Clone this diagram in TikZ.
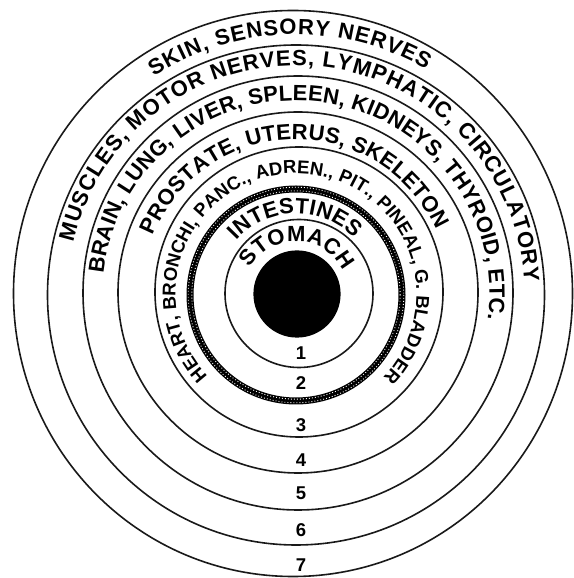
\documentclass[tikz,border=0pt]{standalone}
\usepackage{fontspec}
\setmainfont{Liberation Sans}
\usetikzlibrary{decorations.text}
\newcommand\bandfont{\bfseries\fontsize{22}{22}\selectfont}
\newcommand\smallband{\bfseries\fontsize{18.5}{18.5}\selectfont}
\tikzset{
  ring/.style={draw=black!90, line width=1.6pt},
  arctext/.style={decorate, decoration={text along path, text align=fit to path, text={#1}}},
  num/.style={font=\bfseries\fontsize{18.5}{18.5}\selectfont, inner sep=0pt}
}
\begin{document}
\begin{tikzpicture}[x=1pt,y=1pt]
\useasboundingbox (0,0) rectangle (573,578);
\fill[white] (0,0) rectangle (573,578);
\coordinate (ctr) at (296,284);
% circles
\draw[ring] (293,284.5) ellipse [x radius=279.5, y radius=283];
\draw[ring] (296,283) ellipse [x radius=248.5, y radius=250];
\draw[ring] (298,285) ellipse [x radius=215, y radius=217];
\draw[ring] (298,285.5) ellipse [x radius=180, y radius=180.5];
\draw[ring] (299,286) ellipse [x radius=144, y radius=145];
\draw[ring] (299,284.5) circle [radius=74];
% stippled ring
\draw[black, line width=7pt] (296,283) circle [radius=106];
\draw[white, line width=0.9pt, dash pattern=on 0.9pt off 2.1pt] (296,283) circle [radius=104.2];
\draw[white, line width=0.9pt, dash pattern=on 0.9pt off 2.1pt, dash phase=1.5pt] (296,283) circle [radius=107.8];
% core
\fill[black] (297,284) circle [radius=43.6];
% band texts
\path[arctext={|\bandfont|SKIN, SENSORY NERVES}] (ctr) ++(123.2:259.5) arc[start angle=123.2, end angle=59.9, radius=259.5];
\path[arctext={|\bandfont|MUSCLES, MOTOR NERVES, LYMPHATIC, CIRCULATORY}] (ctr) ++(167:228.5) arc[start angle=167, end angle=3, radius=228.5];
\path[arctext={|\bandfont|BRAIN, LUNG, LIVER, SPLEEN, KIDNEYS, THYROID, ETC.}] (ctr) ++(174:193.5) arc[start angle=174, end angle=-7.7, radius=193.5];
\path[arctext={|\bandfont|PROSTATE, UTERUS, SKELETON}] (ctr) ++(157.8:154.5) arc[start angle=157.8, end angle=24.6, radius=154.5];
\path[arctext={|\smallband|HEART, BRONCHI, PANC., ADREN., PIT., PINEAL, G. BLADDER}] (ctr) ++(223:120.5) arc[start angle=223, end angle=-43.8, radius=120.5];
\path[arctext={|\bandfont|INTESTINES}] (ctr) ++(138:80.5) arc[start angle=138, end angle=44, radius=80.5];
\path[arctext={|\bandfont|STOMACH}] (ctr) ++(150.6:52.5) arc[start angle=150.6, end angle=26, radius=52.5];
% numbers
\node[num] (n1) at (301,225) {1};
\node[num] (n2) at (301,195) {2};
\node[num] (n3) at (301,153) {3};
\node[num] (n4) at (301,118) {4};
\node[num] (n5) at (301,85) {5};
\node[num] (n6) at (301,48) {6};
\node[num] (n7) at (301,13) {7};
\end{tikzpicture}
\end{document}
